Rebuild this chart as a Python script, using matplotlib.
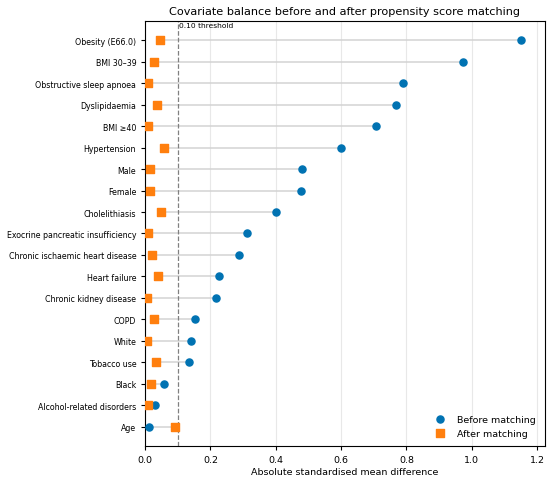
import numpy as np
import matplotlib
matplotlib.use("Agg")
import matplotlib.pyplot as plt

# covariates, top to bottom
covariates = [
    "Obesity (E66.0)", "BMI 30\u201339", "Obstructive sleep apnoea", "Dyslipidaemia",
    "BMI \u226540", "Hypertension", "Male", "Female", "Cholelithiasis",
    "Exocrine pancreatic insufficiency", "Chronic ischaemic heart disease",
    "Heart failure", "Chronic kidney disease", "COPD", "White", "Tobacco use",
    "Black", "Alcohol-related disorders", "Age",
]
smd_before = [1.151, 0.974, 0.791, 0.767, 0.706, 0.600, 0.479, 0.477, 0.400,
              0.311, 0.288, 0.225, 0.216, 0.152, 0.139, 0.134, 0.058, 0.029, 0.013]
smd_after = [0.046, 0.028, 0.010, 0.037, 0.010, 0.057, 0.015, 0.016, 0.047,
             0.008, 0.020, 0.040, 0.006, 0.028, 0.007, 0.034, 0.017, 0.008, 0.092]
threshold = 0.10

ypos = np.arange(len(covariates))[::-1]

fig, ax = plt.subplots(figsize=(5.5, 4.85), dpi=100)

ax.hlines(ypos, smd_after, smd_before, color="#d3d3d3", lw=1.1, zorder=1)
ax.scatter(smd_before, ypos, color="#0072B2", marker="o", s=26, zorder=3, label="Before matching")
ax.scatter(smd_after, ypos, color="#FF7F0E", marker="s", s=26, zorder=3, label="After matching")

ax.axvline(threshold, color="grey", ls="--", lw=0.9, zorder=2)
ax.text(threshold + 0.004, ypos[0] + 0.55, "0.10 threshold", fontsize=5.4, va="bottom", ha="left")

ax.set_yticks(ypos)
ax.set_yticklabels(covariates, fontsize=5.7)
ax.tick_params(axis="x", labelsize=6.8, length=3)
ax.tick_params(axis="y", length=3)
ax.set_xlim(0, 1.223)
ax.grid(axis="x", color="#e8e8e8", lw=0.8)
ax.set_axisbelow(True)
ax.set_xlabel("Absolute standardised mean difference", fontsize=6.8, labelpad=2)
ax.set_title("Covariate balance before and after propensity score matching", fontsize=8.15, pad=5)
ax.legend(loc="lower right", frameon=False, fontsize=6.8, handletextpad=0.8)

fig.subplots_adjust(left=0.264, right=0.99, top=0.955, bottom=0.078)
fig.savefig("out.png", dpi=100)
